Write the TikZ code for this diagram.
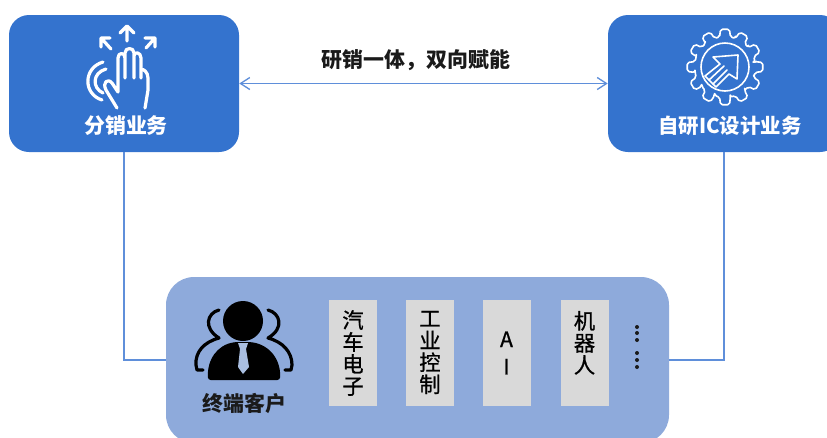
\documentclass[tikz,border=0pt]{standalone}
\usepackage{fontspec}
\setmainfont{Liberation Sans}
\newfontfamily\cjk{Noto Sans CJK SC}
\newfontfamily\cjkmed[FakeBold=0.8]{Noto Sans CJK SC}
\usetikzlibrary{arrows.meta}
\definecolor{boxblue}{HTML}{3473CE}
\definecolor{panelblue}{HTML}{8EAADB}
\definecolor{graybox}{HTML}{D9D9D9}
\definecolor{linkblue}{HTML}{5F8FDA}
\definecolor{tieblue}{HTML}{A9BEE0}
\definecolor{inkgray}{HTML}{1A1A1A}
\tikzset{
  bizbox/.style={fill=boxblue,draw=none,rounded corners=15pt,minimum height=102.75pt,inner sep=0pt},
  panelbox/.style={fill=panelblue,draw=none,rounded corners=21pt,minimum width=377.25pt,minimum height=124.5pt,inner sep=0pt},
  sector/.style={fill=graybox,draw=none,minimum width=36pt,minimum height=79.5pt,inner sep=0pt,align=center,font=\cjkmed\fontsize{16}{16.5}\selectfont,text=black},
  whitelabel/.style={text=white,font=\cjk\bfseries\fontsize{15.7}{18}\selectfont,inner sep=0pt},
  darklabel/.style={text=inkgray,font=\cjk\bfseries\fontsize{15.7}{18}\selectfont,inner sep=0pt},
  link/.style={draw=linkblue,line width=1pt},
  iconline/.style={draw=white,line width=2.4pt,line cap=round,line join=round},
  thinicon/.style={draw=white,line width=1.2pt,line cap=round,line join=round},
  bracket/.style={draw=black,line width=2.4pt,line cap=round,line join=round},
  dot/.style={circle,fill=inkgray,draw=none,minimum size=3pt,inner sep=0pt}
}
\begin{document}
\begin{tikzpicture}[x=0.75pt,y=-0.75pt]
\useasboundingbox (0,0) rectangle (827,437);
\clip (0,0) rectangle (827,437);
\node[bizbox,minimum width=172.5pt] (dist) at (124,83.5) {};
\node[bizbox,minimum width=174pt] (ic) at (724,83.5) {};
\node[panelbox] (panel) at (417.5,360) {};
% connectors
\draw[link] (dist.south) |- (panel.west);
\draw[link] (ic.south) |- (panel.east);
\draw[link,{Straight Barb[length=7pt,width=9pt]}-{Straight Barb[length=7pt,width=9pt]}] (dist.east) -- (ic.west);
% labels
\node[darklabel] (tag) at (416,60) {研销一体，双向赋能};
\node[whitelabel] (distlabel) at (126,126) {分销业务};
\node[whitelabel,font=\cjk\bfseries\fontsize{15.3}{18}\selectfont] (iclabel) at (730,126) {自研IC设计业务};
\node[darklabel] (custlabel) at (244.5,403) {终端客户};
% sectors
\node[sector] (auto) at (353,353) {汽\\车\\电\\子};
\node[sector] (indus) at (430,352.5) {工\\业\\控\\制};
\node[sector] (ai) at (506.5,353) {A\\[4pt]I};
\node[sector] (robot) at (584.5,353) {机\\器\\人\\[0pt]};
% more dots
\foreach \n/\yy in {a/327,b/333,c/340,d/353,e/360,f/367}
  \node[dot] (dot\n) at (637,\yy) {};
% hand icon
\draw[iconline] (127,41) -- (127,27) (120,33) -- (127,26) -- (134,33);
\draw[iconline] (111,49) -- (102,39) (101,47) -- (101,38) -- (110,38);
\draw[iconline] (146,48) -- (155,38) (145,38) -- (155,38) -- (155,47);
\draw[iconline] (117,108) -- (106,90) .. controls (102,82) and (108,78) .. (112,83) -- (118,92)
  -- (118,58) .. controls (118,52) and (125,52) .. (125,58) -- (125,78)
  (125,58) -- (125,53) .. controls (125,47) and (134,47) .. (134,53) -- (134,78)
  (134,56) .. controls (134,51) and (141,52) .. (141,58) -- (141,78)
  (141,70) .. controls (143,68) and (148,72) .. (148,78) -- (148,90) -- (145,108);
\draw[iconline] (103,62) .. controls (83,68) and (83,94) .. (102,100);
\draw[iconline] (106,69) .. controls (92,73) and (92,88) .. (103,93);
% gear icon
\begin{scope}[shift={(725,67)}]
  \draw[thinicon,rounded corners=1.5pt] (-10:30)
    \foreach \a in {0,30,...,330} { -- (\a-10:30.5) -- (\a-7:38) -- (\a+7:38) -- (\a+10:30.5) -- (\a+20:30.5) } -- cycle;
  \draw[thinicon] (0,0) circle[radius=24];
  \draw[thinicon] (13,-12) -- (-12,-10) -- (-5,-3) -- (-20,9) -- (-9,20) -- (4,7) -- (12,12) -- cycle;
  \draw[thinicon] (-16,13) -- (-1,-1) (-12,17) -- (2,3);
\end{scope}
% customer icon
\fill[black] (243,321) circle[radius=20];
\fill[black,rounded corners=2pt] (208,380) .. controls (207,360) and (217,345) .. (236,342)
  -- (250,342) .. controls (270,345) and (281,360) .. (280,380) -- cycle;
\fill[tieblue] (238,343) -- (248,343) -- (246,349) -- (249,367) -- (243,374) -- (238,367) -- (240,349) -- cycle;
\draw[bracket] (219,310) .. controls (207,313) and (203,328) .. (219,338)
  .. controls (204,342) and (195,352) .. (196,365) -- (197,370) -- (203,370);
\draw[bracket] (268,310) .. controls (280,313) and (285,328) .. (268,338)
  .. controls (283,342) and (292,352) .. (292,365) -- (291,370) -- (285,370);
\end{tikzpicture}
\end{document}
